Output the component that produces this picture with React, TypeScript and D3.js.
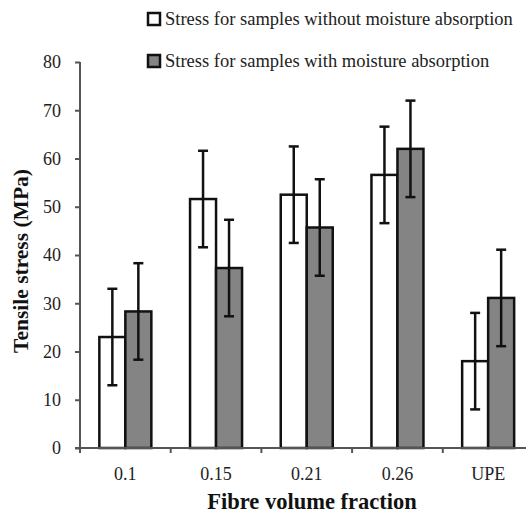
import React, { useEffect, useRef } from "react";
import * as d3 from "d3";

const categories = ["0.1", "0.15", "0.21", "0.26", "UPE"];
const seriesNames = [
  "Stress for samples without moisture absorption",
  "Stress for samples with moisture absorption",
];
const withoutMoisture = [23, 51.6, 52.5, 56.6, 18];
const withMoisture = [28.3, 37.3, 45.7, 62, 31.1];
const withoutErr = [10, 10, 10, 10, 10];
const withErr = [10, 10, 10, 10, 10];
const yTicks = [0, 10, 20, 30, 40, 50, 60, 70, 80];

const App = () => {
  const ref = useRef<SVGSVGElement>(null);

  useEffect(() => {
    const svg = d3.select(ref.current);
    svg.selectAll("*").remove();

    const font = "Liberation Serif";
    const fills = ["#ffffff", "#848484"];

    const x = d3.scaleBand().domain(categories).range([80, 533.5]).padding(0);
    const bw = x.bandwidth();
    const xs = d3
      .scaleBand()
      .domain(["a", "b"])
      .range([bw / 2 - 26, bw / 2 + 26]);
    const y = d3.scaleLinear().domain([0, 80]).range([448, 62]);

    const rows = categories.map((c, i) => ({
      cat: c,
      vals: [
        { key: "a", v: withoutMoisture[i], e: withoutErr[i], fill: fills[0] },
        { key: "b", v: withMoisture[i], e: withErr[i], fill: fills[1] },
      ],
    }));

    // bars
    const g = svg
      .selectAll(".grp")
      .data(rows)
      .enter()
      .append("g")
      .attr("class", "grp")
      .attr("transform", (d) => `translate(${x(d.cat)},0)`);

    g.selectAll("rect")
      .data((d) => d.vals)
      .enter()
      .append("rect")
      .attr("x", (d) => xs(d.key)!)
      .attr("y", (d) => y(d.v))
      .attr("width", xs.bandwidth())
      .attr("height", (d) => y(0) - y(d.v))
      .attr("fill", (d) => d.fill)
      .attr("stroke", "#111")
      .attr("stroke-width", 2.5);

    // error bars
    const eb = g
      .selectAll(".err")
      .data((d) => d.vals)
      .enter()
      .append("g")
      .attr("class", "err")
      .attr("stroke", "#111")
      .attr("stroke-width", 2.5);
    const cx = (d: any) => xs(d.key)! + xs.bandwidth() / 2;
    eb.append("line")
      .attr("x1", cx)
      .attr("x2", cx)
      .attr("y1", (d) => y(d.v + d.e))
      .attr("y2", (d) => y(d.v - d.e));
    eb.append("line")
      .attr("x1", (d) => cx(d) - 5)
      .attr("x2", (d) => cx(d) + 5)
      .attr("y1", (d) => y(d.v + d.e))
      .attr("y2", (d) => y(d.v + d.e));
    eb.append("line")
      .attr("x1", (d) => cx(d) - 5)
      .attr("x2", (d) => cx(d) + 5)
      .attr("y1", (d) => y(d.v - d.e))
      .attr("y2", (d) => y(d.v - d.e));

    // y axis
    const yAxis = svg
      .append("g")
      .attr("transform", "translate(80,0)")
      .call(d3.axisLeft(y).tickValues(yTicks).tickSize(5).tickPadding(14).tickSizeOuter(0));
    yAxis.attr("font-family", null).attr("font-size", null);
    yAxis.select(".domain").attr("stroke", "#555").attr("stroke-width", 2).attr("d", "M0,62V453");
    yAxis.selectAll(".tick line").attr("stroke", "#555").attr("stroke-width", 2);
    yAxis
      .selectAll(".tick text")
      .style("font-family", font)
      .style("font-size", "18px")
      .attr("fill", "#222");

    // x axis
    const xAxis = svg
      .append("g")
      .attr("transform", "translate(0,448)")
      .call(d3.axisBottom(x).tickSize(0).tickPadding(19).tickSizeOuter(0));
    xAxis.attr("font-family", null).attr("font-size", null);
    xAxis.select(".domain").attr("stroke", "#555").attr("stroke-width", 2).attr("d", "M75,0H526");
    xAxis
      .selectAll(".tick text")
      .style("font-family", font)
      .style("font-size", "18px")
      .attr("fill", "#222");
    xAxis
      .selectAll(".sep")
      .data(categories.slice(1))
      .enter()
      .append("line")
      .attr("x1", (d) => x(d)!)
      .attr("x2", (d) => x(d)!)
      .attr("y1", 0)
      .attr("y2", 5)
      .attr("stroke", "#555")
      .attr("stroke-width", 2);

    // titles
    svg
      .append("text")
      .attr("x", 312)
      .attr("y", 509)
      .attr("text-anchor", "middle")
      .style("font-family", font)
      .style("font-weight", "bold")
      .style("font-size", "22.5px")
      .attr("fill", "#111")
      .text("Fibre volume fraction");
    svg
      .append("text")
      .attr("transform", "translate(28,261) rotate(-90)")
      .attr("text-anchor", "middle")
      .style("font-family", font)
      .style("font-weight", "bold")
      .style("font-size", "21.5px")
      .attr("fill", "#111")
      .text("Tensile stress (MPa)");

    // legend
    const legend = svg.append("g").attr("transform", "translate(147,12)");
    legend
      .selectAll("rect")
      .data(seriesNames)
      .enter()
      .append("rect")
      .attr("x", 1)
      .attr("y", (d, i) => i * 42 + 1)
      .attr("width", 12)
      .attr("height", 12)
      .attr("fill", (d, i) => fills[i])
      .attr("stroke", "#111")
      .attr("stroke-width", 2.5);
    legend
      .selectAll("text")
      .data(seriesNames)
      .enter()
      .append("text")
      .attr("x", 18)
      .attr("y", (d, i) => i * 42 + 13)
      .style("font-family", font)
      .style("font-size", "18.5px")
      .attr("fill", "#222")
      .text((d) => d);
  }, []);

  return (
    <svg
      ref={ref}
      width="526"
      height="515"
      style={{ position: "absolute", left: 0, top: 0, background: "#fff" }}
    ></svg>
  );
};

export default App;
